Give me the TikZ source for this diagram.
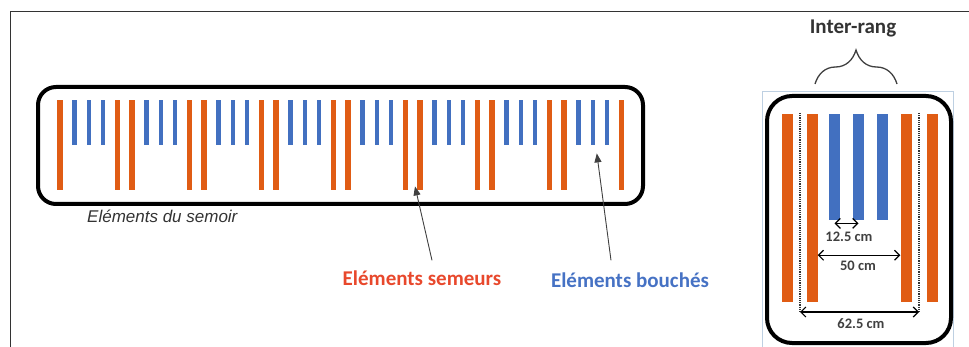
\documentclass[tikz,border=0pt]{standalone}
\usepackage{fontspec}
\setmainfont{Carlito}
\newfontfamily\arialfont{Liberation Sans}
\usepackage{tikz}
\usetikzlibrary{arrows.meta, positioning, calc, decorations.pathreplacing}

\definecolor{seedorange}{RGB}{224,92,20}
\definecolor{plugblue}{RGB}{66,112,192}
\definecolor{labelred}{RGB}{232,72,44}
\definecolor{labelblue}{RGB}{70,114,196}
\definecolor{selframe}{RGB}{190,208,226}

\begin{document}
\begin{tikzpicture}[
        x=1pt, y=-1pt,
        frame/.style={draw, line width=4pt, rounded corners=#1, inner sep=0pt},
        sower/.style={fill=seedorange, inner sep=0pt, minimum width=5.5pt, minimum height=90pt},
        plugged/.style={fill=plugblue, inner sep=0pt, minimum width=4.5pt, minimum height=45pt},
        bigsower/.style={fill=seedorange, inner sep=0pt, minimum width=11pt, minimum height=188pt},
        bigplugged/.style={fill=plugblue, inner sep=0pt, minimum width=11pt, minimum height=106pt},
        pointer/.style={draw=black!75, line width=0.9pt, -{Triangle[length=9pt, width=7pt]}},
        dim/.style={line width=1.2pt, {Straight Barb[length=5pt, width=10pt]}-{Straight Barb[length=5pt, width=10pt]}},
        guide/.style={densely dotted, line width=1.2pt, black!80},
        dimlabel/.style={font=\fontsize{14.5}{14.5}\selectfont\bfseries, text=black!75, inner sep=0pt},
        caption/.style={font=\fontsize{21}{21}\selectfont\bfseries, inner sep=0pt}
      ]
      \useasboundingbox (0,0) rectangle (969,347);

      % page frame
      \draw[line width=1pt, black!80] (10,347) -- (10,12) -- (969,12);

      % --- seeder bar ---
      \node (seeder) [frame=18pt, minimum width=605pt, minimum height=117pt] at (340.5,145.5) {};
      \foreach \i in {0,...,39} {
        \pgfmathtruncatemacro{\r}{mod(\i,5)}
        \ifnum\r=0
          \node (e\i) [sower, anchor=north] at ({60+14.4*\i},100) {};
        \else\ifnum\r=4
          \node (e\i) [sower, anchor=north] at ({60+14.4*\i},100) {};
        \else
          \node (e\i) [plugged, anchor=north] at ({60+14.4*\i},100) {};
        \fi\fi
      }
      \node (seederlbl) [anchor=west, inner sep=0pt, text=black!80,
                         font=\arialfont\itshape\fontsize{17}{17}\selectfont] at (87,216) {Eléments du semoir};

      % labels and arrows
      \node (lblsem) [caption, text=labelred] at (422,278) {Eléments semeurs};
      \node (lblplug) [caption, text=labelblue] at (630,280) {Eléments bouchés};
      \coordinate (tipsem) at ($(e25.south)+(-5,-4)$);
      \coordinate (tipplug) at ($(e37.south)+(4,8)$);
      \draw [pointer] ([xshift=10pt, yshift=10pt]lblsem.north) -- (tipsem);
      \draw [pointer] ([xshift=-19pt, yshift=12pt]lblplug.north) -- (tipplug);

      % --- inter-rang detail ---
      \draw[selframe, line width=0.8pt] (762,347) -- (762,91) -- (953,91) -- (953,347);
      \node (unit) [frame=25pt, minimum width=184pt, minimum height=247pt] at (859,219.5) {};
      \node (ro1) [bigsower, anchor=north] at (787,114) {};
      \node (ro2) [bigsower, anchor=north] at (812,114) {};
      \node (rb1) [bigplugged, anchor=north] at (834.5,114) {};
      \node (rb2) [bigplugged, anchor=north] at (858.5,114) {};
      \node (rb3) [bigplugged, anchor=north] at (882,114) {};
      \node (ro3) [bigsower, anchor=north] at (906,114) {};
      \node (ro4) [bigsower, anchor=north] at (932.5,114) {};
      \coordinate (g1) at (800,312);
      \coordinate (g2) at (919,312);
      \draw [guide] (800,113) -- (g1);
      \draw [guide] (919,113) -- (g2);

      \draw [dim] ([yshift=-3pt]rb1.south) -- ([yshift=-3pt]rb2.south);
      \node (d1) [dimlabel] at (849,237) {12.5 cm};
      \draw [dim] ([yshift=-47pt]ro2.east) -- ([yshift=-47pt]ro3.west);
      \node (d2) [dimlabel] at (858,266) {50 cm};
      \draw [dim] (g1) -- (g2);
      \node (d3) [dimlabel] at (861,324) {62.5 cm};

      \draw [decorate, decoration={brace, amplitude=34pt}, line width=1.3pt, black!75] (815,84) -- (897,84);
      \node (interrang) [caption, text=black!80] at (853,28) {Inter-rang};

    \end{tikzpicture}
\end{document}
